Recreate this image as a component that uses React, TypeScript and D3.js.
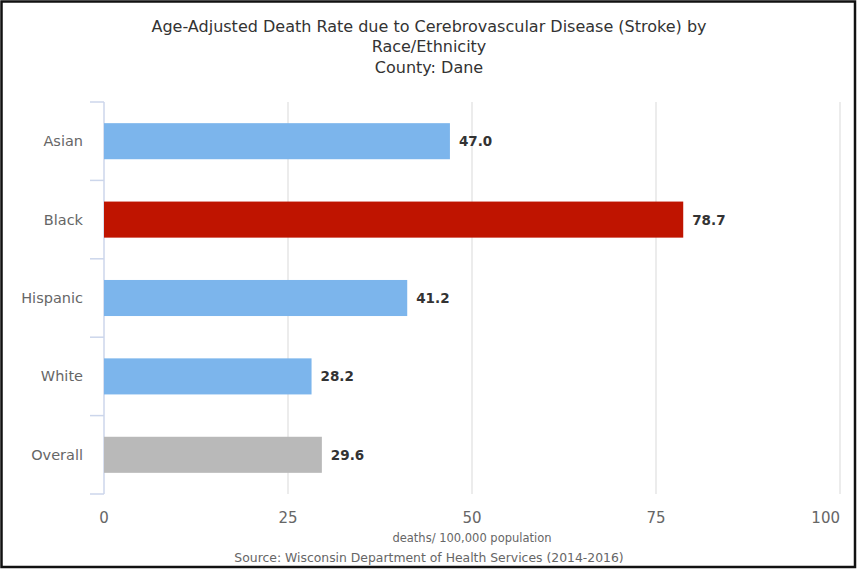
import React from "react";
import * as d3 from "d3";

const categories = ["Asian", "Black", "Hispanic", "White", "Overall"];
const values = [47.0, 78.7, 41.2, 28.2, 29.6];
const barColors = ["#7cb5ec", "#bf1400", "#7cb5ec", "#7cb5ec", "#b9b9b9"];
const xTicks = [0, 25, 50, 75, 100];
const titleLines = [
  "Age-Adjusted Death Rate due to Cerebrovascular Disease (Stroke) by",
  "Race/Ethnicity",
  "County: Dane",
];
const axisTitle = "deaths/ 100,000 population";
const sourceText = "Source: Wisconsin Department of Health Services (2014-2016)";

const W = 858;
const H = 570;
const left = 104;
const right = 840;
const top = 102;
const bottom = 494;
const font = "'DejaVu Sans', sans-serif";

export default function App() {
  const x = d3.scaleLinear().domain([0, 100]).range([left, right]);
  const y = d3.scaleBand().domain(categories).range([top, bottom]).paddingInner(0.54).paddingOuter(0.27);
  const bandStep = (bottom - top) / categories.length;
  const boundaries = d3.range(categories.length + 1).map((i) => top + i * bandStep);

  return (
    <svg width={W} height={H} style={{ position: "absolute", left: 0, top: 0, background: "#fff" }}>
      <rect x={0} y={0} width={W} height={H} fill="#fff" />
      <rect x={1.5} y={1.5} width={853.5} height={565.5} fill="none" stroke="#111" strokeWidth={2.5} />
      {titleLines.map((t, i) => (
        <text key={i} x={429} y={31.5 + i * 20.5} textAnchor="middle" fontFamily={font} fontSize={16} fill="#333">
          {t}
        </text>
      ))}
      {xTicks.filter((t) => t > 0).map((t) => (
        <line key={t} x1={x(t)} x2={x(t)} y1={top} y2={bottom} stroke="#e6e6e6" strokeWidth={1.5} />
      ))}
      <line x1={left} x2={left} y1={top} y2={bottom} stroke="#ccd6eb" strokeWidth={1.5} />
      {boundaries.map((b, i) => (
        <line key={i} x1={left - 14} x2={left} y1={b} y2={b} stroke="#ccd6eb" strokeWidth={1.5} />
      ))}
      {categories.map((c, i) => (
        <g key={c}>
          <rect x={x(0)} y={y(c)!} width={x(values[i]) - x(0)} height={y.bandwidth()} fill={barColors[i]} />
          <text x={left - 21} y={y(c)! + y.bandwidth() / 2 + 5} textAnchor="end" fontFamily={font} fontSize={14.5} fill="#666">
            {c}
          </text>
          <text x={x(values[i]) + 9} y={y(c)! + y.bandwidth() / 2 + 5} fontFamily={font} fontSize={13.5} fontWeight={600} fill="#333">
            {values[i].toFixed(1)}
          </text>
        </g>
      ))}
      {xTicks.map((t, i) => (
        <text key={t} x={x(t)} y={523} textAnchor={i === xTicks.length - 1 ? "end" : "middle"} fontFamily={font} fontSize={15} fill="#666">
          {t}
        </text>
      ))}
      <text x={(left + right) / 2} y={542} textAnchor="middle" fontFamily={font} fontSize={11.5} fill="#666">
        {axisTitle}
      </text>
      <text x={429} y={562} textAnchor="middle" fontFamily={font} fontSize={12.4} fill="#666">
        {sourceText}
      </text>
    </svg>
  );
}
